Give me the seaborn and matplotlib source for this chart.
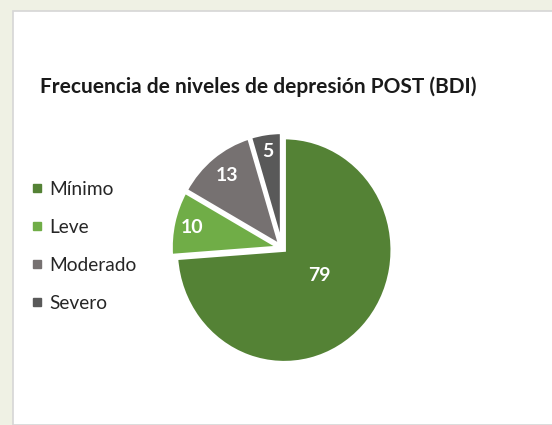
import matplotlib
matplotlib.use('Agg')
import matplotlib.pyplot as plt
import seaborn as sns
from matplotlib.lines import Line2D
from matplotlib.patches import Rectangle
import numpy as np

# data
niveles = ['Mínimo', 'Leve', 'Moderado', 'Severo']
frecuencias = [79, 10, 13, 5]
colores = ['#548235', '#70AD47', '#767171', '#595959']
titulo = 'Frecuencia de niveles de depresión POST (BDI)'

sns.set_style('white')
plt.rcParams['font.family'] = ['Lato', 'DejaVu Sans']

W, H = 552, 425
fig = plt.figure(figsize=(W / 100, H / 100), dpi=100)
fig.patch.set_facecolor('#EFF1E4')

# white slide panel with thin grey edge
fig.patches.append(Rectangle((12.5 / W, 0), 1, 1 - 11 / H, transform=fig.transFigure,
                             facecolor='white', edgecolor='#D6D6D6', linewidth=1.2, zorder=-1))

fig.text(40 / W, 1 - 87 / H, titulo, fontsize=15, fontweight='bold', color='#1A1A1A',
         ha='left', va='center')

# pie axes centred on (282, 248) px, slightly taller than wide like the source
cx, cy, bw, bh = 282, 248, 240, 250
ax = fig.add_axes([(cx - bw / 2) / W, 1 - (cy + bh / 2) / H, bw / W, bh / H])
ax.set_zorder(2)
ax.set_facecolor('none')
wedges, _ = ax.pie(frecuencias, colors=colores, startangle=90, counterclock=False,
                   radius=1.08, explode=[0.03] * 4,
                   wedgeprops=dict(edgecolor='white', linewidth=2.5))
ax.set_xlim(-1.2, 1.2)
ax.set_ylim(-1.2, 1.2)
ax.set_aspect('auto')
ax.axis('off')

dist = [0.42, 0.85, 0.82, 0.87]
shift = [8, 0, 0, 0]
for w, v, d, s in zip(wedges, frecuencias, dist, shift):
    ang = np.deg2rad((w.theta1 + w.theta2) / 2 + s)
    ax.text(d * 1.08 * np.cos(ang), d * 1.08 * np.sin(ang), str(v), color='white',
            fontsize=14, fontweight='bold', ha='center', va='center')

handles = [Line2D([], [], marker='s', ls='', color=c, markersize=6) for c in colores]
leg = fig.legend(handles, niveles, loc='upper left', bbox_to_anchor=(24 / W, 1 - 173 / H),
                 frameon=False, fontsize=13.8, labelcolor='#262626', handlelength=0.6,
                 handletextpad=0.3, labelspacing=1.1, borderaxespad=0)
leg.set_zorder(3)

fig.savefig('out.png', dpi=100, facecolor=fig.get_facecolor())
